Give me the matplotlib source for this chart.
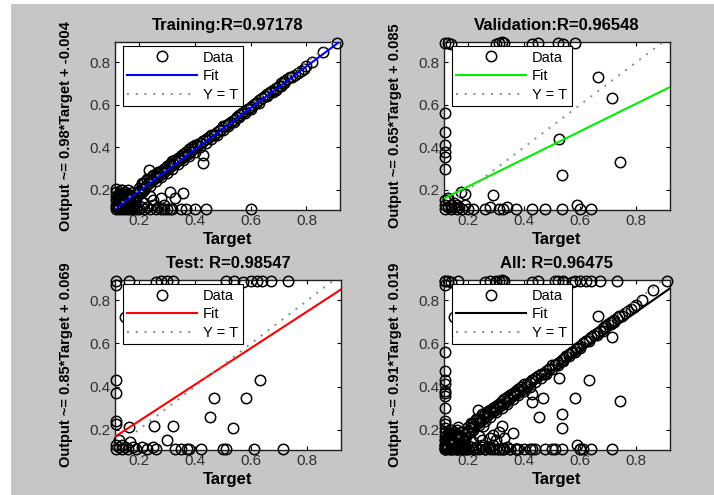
import matplotlib
matplotlib.use("Agg")
import matplotlib.pyplot as plt
import numpy as np
from matplotlib.patches import Rectangle

plt.rcParams['font.family'] = ['Liberation Sans', 'DejaVu Sans']

# --- data ---
# training: points along the diagonal
train_diag_t = [0.20, 0.205, 0.21, 0.215, 0.22, 0.225, 0.23, 0.235, 0.24, 0.245,
                0.25, 0.255, 0.26, 0.265, 0.27, 0.275, 0.28, 0.285, 0.29, 0.295,
                0.30, 0.305, 0.31, 0.315, 0.32, 0.325, 0.33, 0.335, 0.34, 0.345,
                0.35, 0.355, 0.36, 0.365, 0.37, 0.375, 0.38, 0.385, 0.39, 0.395,
                0.40, 0.41, 0.42, 0.43, 0.44, 0.45, 0.46, 0.47, 0.48, 0.49,
                0.50, 0.51, 0.52, 0.53, 0.54, 0.55, 0.56, 0.57, 0.58, 0.59,
                0.60, 0.61, 0.62, 0.63, 0.64, 0.65, 0.66, 0.67, 0.68, 0.69,
                0.70, 0.71, 0.72, 0.73, 0.74, 0.76, 0.78, 0.80, 0.82, 0.86, 0.91]
train_diag_y = [0.21, 0.20, 0.225, 0.21, 0.23, 0.22, 0.245, 0.23, 0.25, 0.24,
                0.265, 0.25, 0.27, 0.26, 0.285, 0.27, 0.29, 0.28, 0.30, 0.29,
                0.31, 0.30, 0.32, 0.31, 0.335, 0.32, 0.34, 0.33, 0.35, 0.34,
                0.36, 0.35, 0.37, 0.36, 0.38, 0.37, 0.39, 0.38, 0.40, 0.39,
                0.41, 0.40, 0.42, 0.43, 0.44, 0.45, 0.46, 0.46, 0.47, 0.48,
                0.50, 0.50, 0.51, 0.52, 0.53, 0.54, 0.55, 0.56, 0.57, 0.58,
                0.59, 0.60, 0.61, 0.62, 0.63, 0.64, 0.65, 0.66, 0.67, 0.68,
                0.69, 0.70, 0.71, 0.72, 0.73, 0.74, 0.76, 0.78, 0.80, 0.85, 0.89]
train_band_t = [0.21, 0.23, 0.25, 0.27, 0.29, 0.31, 0.33, 0.35, 0.37, 0.39, 0.41, 0.43,
                0.45, 0.47, 0.49, 0.51, 0.53, 0.55, 0.57, 0.59, 0.62, 0.65, 0.68, 0.71,
                0.20, 0.22, 0.24, 0.26, 0.28, 0.30, 0.32, 0.34, 0.36, 0.38, 0.40, 0.42,
                0.44, 0.46, 0.48, 0.50, 0.52, 0.54, 0.56, 0.58, 0.60, 0.63, 0.66, 0.69,
                0.72, 0.75, 0.77, 0.79]
train_band_y = [0.23, 0.25, 0.27, 0.28, 0.30, 0.32, 0.34, 0.36, 0.38, 0.40, 0.41, 0.43,
                0.45, 0.46, 0.48, 0.50, 0.52, 0.54, 0.56, 0.58, 0.61, 0.64, 0.66, 0.69,
                0.19, 0.20, 0.22, 0.24, 0.26, 0.28, 0.30, 0.32, 0.34, 0.36, 0.38, 0.40,
                0.42, 0.44, 0.46, 0.48, 0.50, 0.52, 0.54, 0.56, 0.58, 0.61, 0.64, 0.67,
                0.70, 0.73, 0.75, 0.77]
train_low_t = [0.12, 0.12, 0.12, 0.12, 0.12, 0.125, 0.13, 0.13, 0.13, 0.13, 0.135,
               0.14, 0.14, 0.14, 0.14, 0.145, 0.15, 0.15, 0.15, 0.15, 0.16, 0.16, 0.16, 0.16,
               0.17, 0.17, 0.17, 0.17, 0.18, 0.18, 0.18, 0.18, 0.19, 0.19, 0.19, 0.12, 0.14, 0.16,
               0.125, 0.135, 0.145, 0.155, 0.165, 0.175, 0.185, 0.195, 0.125, 0.145, 0.165, 0.185,
               0.12, 0.13, 0.14, 0.15, 0.16, 0.17, 0.18, 0.13, 0.15, 0.17]
train_low_y = [0.11, 0.13, 0.15, 0.17, 0.19, 0.12, 0.11, 0.14, 0.16, 0.18, 0.20,
               0.11, 0.13, 0.15, 0.17, 0.12, 0.11, 0.14, 0.16, 0.19, 0.11, 0.13, 0.15, 0.18,
               0.11, 0.12, 0.14, 0.17, 0.11, 0.13, 0.16, 0.19, 0.11, 0.12, 0.15, 0.205, 0.20, 0.20,
               0.14, 0.125, 0.145, 0.125, 0.165, 0.125, 0.14, 0.17, 0.16, 0.18, 0.12, 0.175,
               0.12, 0.125, 0.12, 0.125, 0.12, 0.13, 0.12, 0.15, 0.17, 0.155]
train_off_t = [0.20, 0.21, 0.22, 0.23, 0.24, 0.25, 0.26, 0.27, 0.28, 0.29, 0.30, 0.31, 0.32,
               0.35, 0.37, 0.40, 0.44, 0.60, 0.237, 0.43, 0.43, 0.31, 0.36, 0.33,
               0.21, 0.24, 0.25, 0.28, 0.29, 0.22]
train_off_y = [0.11, 0.12, 0.11, 0.12, 0.11, 0.13, 0.11, 0.12, 0.11, 0.11, 0.11, 0.11, 0.11,
               0.11, 0.11, 0.11, 0.11, 0.11, 0.293, 0.364, 0.326, 0.19, 0.185, 0.16,
               0.19, 0.17, 0.15, 0.16, 0.13, 0.14]

val_t = [0.12, 0.13, 0.14, 0.30, 0.31, 0.32, 0.33, 0.43, 0.45, 0.52, 0.54, 0.58,
         0.12, 0.12, 0.12, 0.12, 0.12, 0.12,
         0.665, 0.715, 0.524, 0.743, 0.534, 0.176, 0.19, 0.29,
         0.325, 0.37, 0.43, 0.475, 0.535, 0.59, 0.64, 0.60, 0.22, 0.26, 0.28, 0.31, 0.34,
         0.12, 0.12, 0.13, 0.13, 0.14, 0.14, 0.15, 0.15, 0.16, 0.17, 0.18, 0.19, 0.20,
         0.12, 0.13, 0.14, 0.16]
val_y = [0.89, 0.89, 0.885, 0.885, 0.89, 0.895, 0.89, 0.885, 0.89, 0.89, 0.885, 0.89,
         0.561, 0.472, 0.41, 0.354, 0.30, 0.38,
         0.73, 0.632, 0.44, 0.331, 0.27, 0.19, 0.18, 0.175,
         0.11, 0.11, 0.11, 0.11, 0.11, 0.13, 0.11, 0.11, 0.11, 0.11, 0.12, 0.11, 0.12,
         0.11, 0.13, 0.12, 0.15, 0.11, 0.13, 0.12, 0.14, 0.11, 0.12, 0.11, 0.13, 0.11,
         0.15, 0.16, 0.12, 0.13]

test_t = [0.12, 0.165, 0.26, 0.28, 0.30, 0.32, 0.51, 0.54, 0.57, 0.60, 0.62, 0.64, 0.67, 0.73,
          0.12, 0.15, 0.12, 0.12, 0.12, 0.12,
          0.633, 0.467, 0.58, 0.452, 0.535, 0.255, 0.32, 0.30, 0.165,
          0.26, 0.33, 0.35, 0.37, 0.38, 0.42, 0.50, 0.51, 0.61, 0.715,
          0.12, 0.12, 0.13, 0.13, 0.14, 0.14, 0.15, 0.16, 0.17, 0.18, 0.19, 0.21, 0.23, 0.25]
test_y = [0.89, 0.89, 0.885, 0.89, 0.89, 0.89, 0.89, 0.89, 0.885, 0.89, 0.89, 0.89, 0.89, 0.89,
          0.87, 0.723, 0.43, 0.37, 0.24, 0.225,
          0.43, 0.346, 0.346, 0.26, 0.206, 0.215, 0.216, 0.15, 0.21,
          0.11, 0.11, 0.11, 0.11, 0.11, 0.11, 0.11, 0.11, 0.11, 0.11,
          0.11, 0.13, 0.12, 0.15, 0.11, 0.13, 0.12, 0.11, 0.14, 0.12, 0.11, 0.12, 0.11, 0.12]

panel_names = ["Training:", "Validation:", "Test: ", "All: "]
r_values = ["0.97178", "0.96548", "0.98547", "0.96475"]
slopes = [0.98, 0.65, 0.85, 0.91]
intercepts = [-0.004, 0.085, 0.069, 0.019]
fit_colors = ["#0000ff", "#00ee00", "#ff0000", "#000000"]
tick_vals = [0.2, 0.4, 0.6, 0.8]

train_t = np.concatenate([train_diag_t, train_band_t, train_low_t, train_off_t])
train_y = np.concatenate([train_diag_y, train_band_y, train_low_y, train_off_y])
all_t = np.concatenate([train_t, val_t, test_t])
all_y = np.concatenate([train_y, val_y, test_y])
sets = [(train_t, train_y), (np.array(val_t), np.array(val_y)),
        (np.array(test_t), np.array(test_y)), (all_t, all_y)]

# --- figure ---
W, H = 714, 495
fig = plt.figure(figsize=(W / 100, H / 100), dpi=100, facecolor="white")
fig.patches.append(Rectangle((11 / W, 0), 1 - 11 / W, 1 - 4 / H, transform=fig.transFigure,
                             facecolor="#c6c6c6", edgecolor="none", zorder=-10))

# axes boxes in pixels: left, top, right, bottom
boxes = [(115, 42, 340, 210), (444, 42, 670, 210),
         (115, 280, 341, 450), (444, 280, 670, 450)]

xlim = (0.115, 0.92)
ylim = (0.105, 0.895)

for i, (l, t, r, b) in enumerate(boxes):
    ax = fig.add_axes([l / W, 1 - b / H, (r - l) / W, (b - t) / H])
    ax.set_facecolor("white")
    tt, yy = sets[i]
    ax.plot(tt, yy, 'o', mfc='none', mec='black', ms=7.5, mew=1.1,
            clip_on=False, label='Data', zorder=3)
    xs = np.array(xlim)
    ax.plot(xs, slopes[i] * xs + intercepts[i], color=fit_colors[i], lw=1.5,
            label='Fit', zorder=4)
    ax.plot(xs, xs, color='#8a8a8a', lw=1.4, ls=(0, (1, 3.5)), label='Y = T', zorder=4)
    ax.set_xlim(*xlim)
    ax.set_ylim(*ylim)
    ax.set_xticks(tick_vals)
    ax.set_yticks(tick_vals)
    ax.set_xticklabels([f"{v:.1f}" for v in tick_vals])
    ax.set_yticklabels([f"{v:.1f}" for v in tick_vals])
    ax.tick_params(direction='in', length=3, width=0.8, top=True, right=True,
                   labelsize=11, labelcolor='#303030', pad=3)
    for sp in ax.spines.values():
        sp.set_color('#202020')
        sp.set_linewidth(1.0)
    ax.set_title(f"{panel_names[i]}R={r_values[i]}", fontsize=12, fontweight='bold', pad=9)
    ax.set_xlabel("Target", fontsize=12, fontweight='bold', labelpad=3)
    ax.set_ylabel(f"Output ~= {slopes[i]:.2f}*Target + {intercepts[i]:.3f}",
                  fontsize=10.5, fontweight='bold', labelpad=12)
    leg = ax.legend(loc='upper left', bbox_to_anchor=(0.035, 0.975), fontsize=10.5,
                    handlelength=4.8, frameon=True, fancybox=False, framealpha=1,
                    edgecolor='black', borderpad=0.3, labelspacing=0.32,
                    handletextpad=0.4, borderaxespad=0)
    leg.get_frame().set_linewidth(0.8)
    leg.set_zorder(10)

fig.savefig("out.png", dpi=100, facecolor=fig.get_facecolor())
